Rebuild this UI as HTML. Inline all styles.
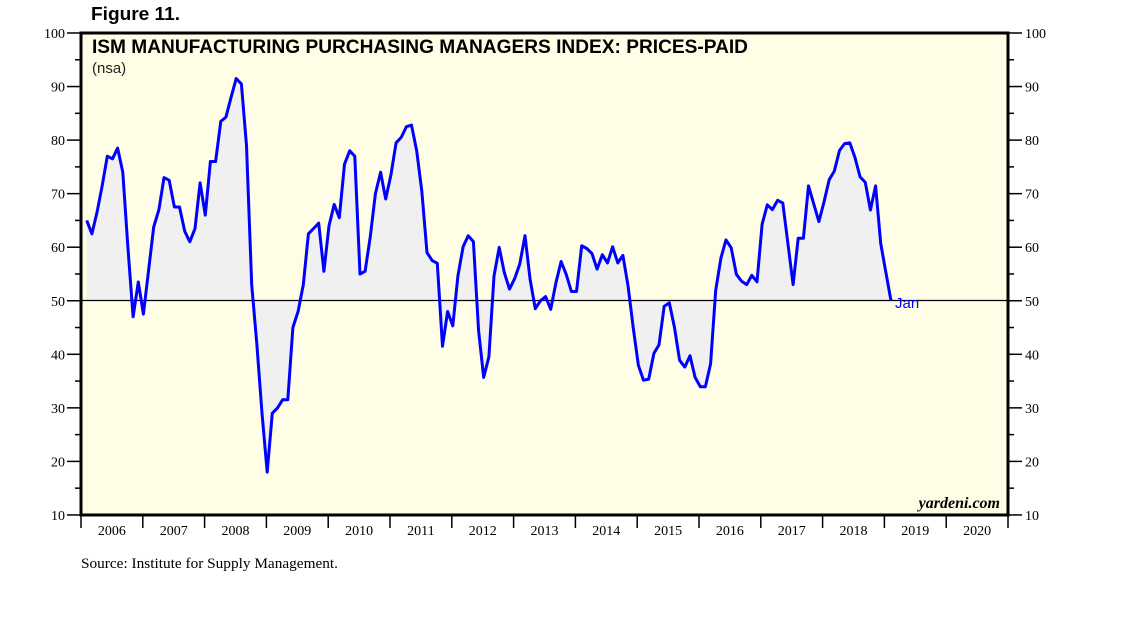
<!DOCTYPE html>
<html><head><meta charset="utf-8"><style>
html,body{margin:0;padding:0;background:#fff;}
svg{display:block;}
</style></head><body>
<svg id="s" width="1138" height="621" xmlns="http://www.w3.org/2000/svg">
<rect x="0" y="0" width="1138" height="621" fill="#fff"/>
<rect x="81" y="33" width="927" height="482" fill="#fffde6"/>
<polygon id="fill" fill="#f0f0f0" points=""/>
<line x1="81" y1="300.5" x2="1008" y2="300.5" stroke="#000" stroke-width="1.2"/>
<polyline id="line" fill="none" stroke="#0000ff" stroke-width="3" stroke-linejoin="round" points=""/>
<g id="ticks" stroke="#000" stroke-width="1.5"></g>
<g id="labels" font-family="Liberation Serif, serif" font-size="14" fill="#000"></g>
<rect x="81" y="33" width="927" height="482" fill="none" stroke="#000" stroke-width="3"/>
<text x="91" y="20" font-family="Liberation Sans, sans-serif" font-weight="bold" font-size="18" textLength="89" lengthAdjust="spacingAndGlyphs">Figure 11.</text>
<text x="92" y="53" font-family="Liberation Sans, sans-serif" font-weight="bold" font-size="19" textLength="656" lengthAdjust="spacingAndGlyphs">ISM MANUFACTURING PURCHASING MANAGERS INDEX: PRICES-PAID</text>
<text x="92" y="73" font-family="Liberation Sans, sans-serif" font-size="15" fill="#222">(nsa)</text>
<text x="895" y="308" font-family="Liberation Sans, sans-serif" font-size="15" fill="#0000ff">Jan</text>
<text x="1000" y="508" text-anchor="end" font-family="Liberation Serif, serif" font-style="italic" font-weight="bold" font-size="16">yardeni.com</text>
<text x="81" y="568" font-family="Liberation Serif, serif" font-size="15" textLength="257" lengthAdjust="spacingAndGlyphs">Source: Institute for Supply Management.</text>
</svg>
<script>
var v=[65,62.5,66.5,71.5,77,76.5,78.5,74,60,47,53.5,47.5,
55.7,63.8,67,73,72.5,67.5,67.5,63,61,63.5,72,66,
76,76,83.5,84.3,88,91.5,90.5,79,53,42,29,18,
29,30,31.5,31.5,45,48,53,62.5,63.5,64.5,55.5,64,
68,65.5,75.5,78,77,55,55.5,62,70,74,69,73.5,
79.5,80.5,82.5,82.8,78,70.5,59,57.5,57,41.5,48,45.3];
var zy=[800,715,683,700,960,1095,1035,800,717,790,838,808,765,683,810,895,872,860,897,820,758,795,845,845,712,720,735,780,738,762,715,762,740,830,950,1060,1103,1100,1025,1000,888,878,950,1045,1065,1032,1095,1122,1122,1055,842,748,695,718,795,815,825,798,817,650,593,607,580,588,705,825,690,690,538,590,642,585,520,495,435,415,413,455,512,528,608,538,705,790,872];
zy.forEach(function(z){v.push(50+(872-z)/15.57);});
function Y(val){return 33+(100-val)*5.355;}
var pts=[];
for(var i=0;i<v.length;i++){pts.push((86.7+i*5.156).toFixed(1)+","+Y(v[i]).toFixed(1));}
document.getElementById('line').setAttribute('points',pts.join(' '));
var last=86.7+(v.length-1)*5.156;
document.getElementById('fill').setAttribute('points',"86.7,300.5 "+pts.join(' ')+" "+last.toFixed(1)+",300.5");
var t=document.getElementById('ticks'),l=document.getElementById('labels'),ns="http://www.w3.org/2000/svg";
function ln(x1,y1,x2,y2){var e=document.createElementNS(ns,'line');e.setAttribute('x1',x1);e.setAttribute('y1',y1);e.setAttribute('x2',x2);e.setAttribute('y2',y2);t.appendChild(e);}
function tx(x,y,s,a){var e=document.createElementNS(ns,'text');e.setAttribute('x',x);e.setAttribute('y',y);e.setAttribute('text-anchor',a);e.textContent=s;l.appendChild(e);}
for(var k=10;k<=100;k+=5){var y=Y(k);var maj=(k%10==0);
ln(maj?67:75,y,81,y);ln(1008,y,maj?1022:1014,y);
if(maj){tx(65,y+5,k,'end');tx(1025,y+5,k,'start');}}
for(var j=0;j<=15;j++){var x=81+j*61.8;ln(x,515,x,528);if(j<15)tx(x+30.9,535,2006+j,'middle');}
</script>
</body></html>
